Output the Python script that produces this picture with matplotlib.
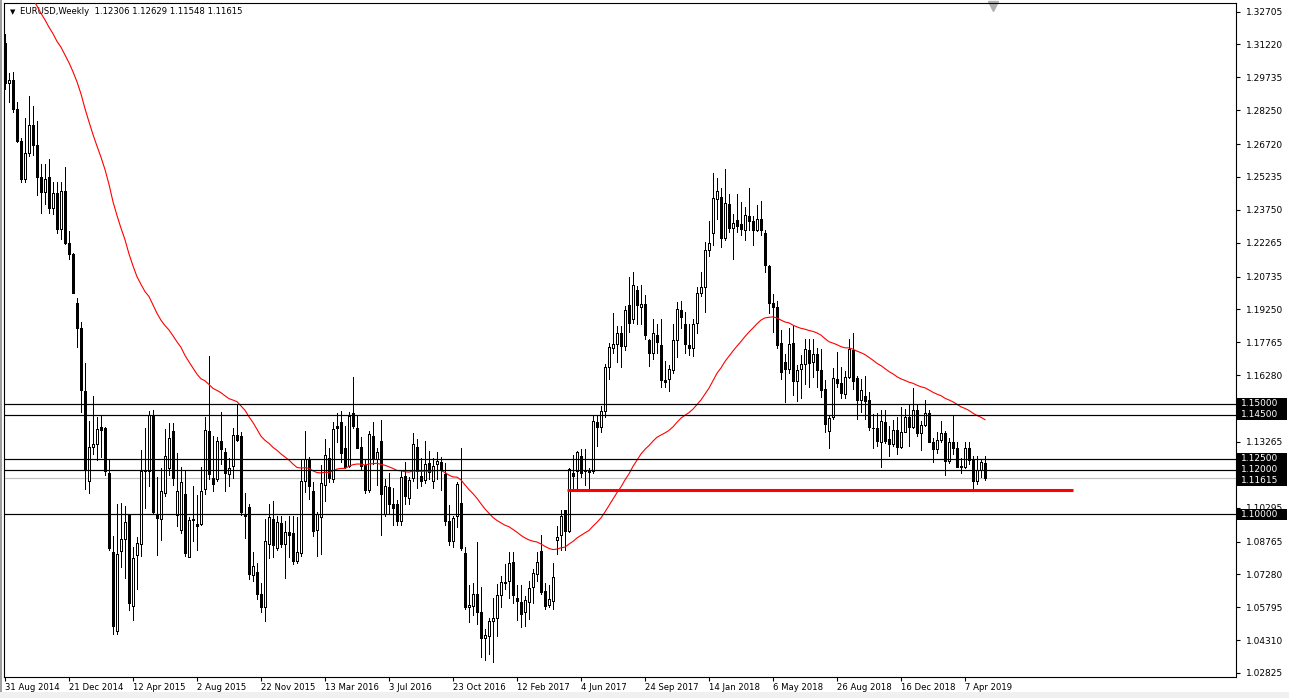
import numpy as np
import pandas as pd
import matplotlib
matplotlib.use('Agg')
from matplotlib import pyplot as plt
from matplotlib import transforms
from matplotlib.patches import Rectangle

plt.rcParams['font.family'] = ['DejaVu Sans']

symbol = 'EURUSD,Weekly'
last_quote = '1.12306 1.12629 1.11548 1.11615'

# weekly candles, 31 Aug 2014 .. 12 May 2019 (one row = 10 weeks)
opens = [
    1.3130, 1.2950, 1.2960, 1.2830, 1.2685, 1.2515, 1.2630, 1.2760, 1.2670, 1.2525,
    1.2455, 1.2525, 1.2385, 1.2450, 1.2290, 1.2460, 1.2225, 1.2175, 1.1956, 1.1840,
    1.1555, 1.1150, 1.1305, 1.1315, 1.1395, 1.1390, 1.1185, 1.0830, 1.0470, 1.0835,
    1.0890, 1.0995, 1.0585, 1.0815, 1.0866, 1.1195, 1.1195, 1.1448, 1.0996, 1.0977,
    1.1095, 1.1210, 1.1374, 1.0996, 1.0930, 1.1090, 1.0805, 1.0975, 1.0955, 1.0956,
    1.1112, 1.1374, 1.1165, 1.1160, 1.1332, 1.1282, 1.1180, 1.1218, 1.1359, 1.1354,
    1.0999, 1.1032, 1.0726, 1.0738, 1.0638, 1.0582, 1.0866, 1.0980, 1.0846, 1.0961,
    1.0865, 1.0920, 1.0915, 1.0790, 1.0825, 1.1150, 1.1249, 1.1105, 1.0930, 1.0986,
    1.1132, 1.1254, 1.1159, 1.1400, 1.1415, 1.1299, 1.1218, 1.1456, 1.1389, 1.1305,
    1.1223, 1.1108, 1.1355, 1.1250, 1.1329, 1.1001, 1.1123, 1.1047, 1.1047, 1.0968,
    1.1173, 1.1074, 1.1162, 1.1305, 1.1173, 1.1153, 1.1229, 1.1150, 1.1226, 1.1235,
    1.1180, 1.0968, 1.0877, 1.0991, 1.1051, 1.0824, 1.0582, 1.0587, 1.0640, 1.0560,
    1.0440, 1.0451, 1.0518, 1.0529, 1.0635, 1.0695, 1.0700, 1.0786, 1.0623, 1.0605,
    1.0559, 1.0605, 1.0673, 1.0729, 1.0832, 1.0653, 1.0590, 1.0608, 1.0885, 1.0908,
    1.1017, 1.0923, 1.1188, 1.1195, 1.1264, 1.1200, 1.1195, 1.1195, 1.1415, 1.1392,
    1.1468, 1.1666, 1.1750, 1.1771, 1.1820, 1.1760, 1.1945, 1.1880, 1.2014, 1.1935,
    1.1950, 1.1789, 1.1726, 1.1809, 1.1764, 1.1605, 1.1612, 1.1653, 1.1786, 1.1923,
    1.1859, 1.1764, 1.1749, 1.1865, 1.2001, 1.2026, 1.2192, 1.2271, 1.2426, 1.2435,
    1.2249, 1.2403, 1.2294, 1.2329, 1.2310, 1.2283, 1.2347, 1.2324, 1.2283, 1.2335,
    1.2271, 1.2123, 1.1956, 1.1938, 1.1774, 1.1688, 1.1658, 1.1774, 1.1601, 1.1658,
    1.1677, 1.1741, 1.1688, 1.1723, 1.1653, 1.1567, 1.1374, 1.1441, 1.1612, 1.1592,
    1.1544, 1.1620, 1.1741, 1.1617, 1.1517, 1.1536, 1.1514, 1.1390, 1.1389, 1.1324,
    1.1415, 1.1340, 1.1315, 1.1380, 1.1305, 1.1370, 1.1440, 1.1395, 1.1470, 1.1365,
    1.1405, 1.1455, 1.1325, 1.1295, 1.1335, 1.1365, 1.1240, 1.1325, 1.1300, 1.1215,
    1.1215, 1.1300, 1.1245, 1.1150, 1.1200, 1.12306,
]
highs = [
    1.3168, 1.2995, 1.3000, 1.2860, 1.2700, 1.2790, 1.2890, 1.2845, 1.2775, 1.2580,
    1.2580, 1.2605, 1.2500, 1.2500, 1.2500, 1.2570, 1.2280, 1.2180, 1.1977, 1.1870,
    1.1682, 1.1423, 1.1534, 1.1440, 1.1445, 1.1395, 1.1245, 1.0900, 1.1045, 1.1050,
    1.1035, 1.1000, 1.0850, 1.0895, 1.1290, 1.1390, 1.1467, 1.1470, 1.1170, 1.1210,
    1.1385, 1.1410, 1.1410, 1.1277, 1.1215, 1.1200, 1.0985, 1.1127, 1.1086, 1.1215,
    1.1440, 1.1714, 1.1354, 1.1350, 1.1461, 1.1300, 1.1255, 1.1390, 1.1495, 1.1370,
    1.1097, 1.1045, 1.0829, 1.0780, 1.0690, 1.0976, 1.1045, 1.1060, 1.0990, 1.0990,
    1.0970, 1.0990, 1.0990, 1.0985, 1.1245, 1.1375, 1.1260, 1.1145, 1.1010, 1.1220,
    1.1340, 1.1300, 1.1415, 1.1455, 1.1465, 1.1400, 1.1460, 1.1620, 1.1445, 1.1350,
    1.1245, 1.1375, 1.1415, 1.1300, 1.1426, 1.1160, 1.1185, 1.1120, 1.1065, 1.1200,
    1.1235, 1.1170, 1.1365, 1.1340, 1.1255, 1.1330, 1.1285, 1.1255, 1.1280, 1.1260,
    1.1230, 1.1040, 1.0990, 1.1145, 1.1299, 1.0850, 1.0682, 1.0688, 1.0872, 1.0670,
    1.0480, 1.0530, 1.0620, 1.0685, 1.0720, 1.0775, 1.0830, 1.0830, 1.0680, 1.0680,
    1.0630, 1.0700, 1.0750, 1.0830, 1.0905, 1.0690, 1.0680, 1.0780, 1.0945, 1.1020,
    1.1020, 1.1210, 1.1268, 1.1285, 1.1296, 1.1296, 1.1210, 1.1445, 1.1445, 1.1490,
    1.1680, 1.1775, 1.1910, 1.1850, 1.1850, 1.1940, 1.2070, 1.2092, 1.2030, 1.2035,
    1.1990, 1.1790, 1.1880, 1.1860, 1.1880, 1.1690, 1.1675, 1.1860, 1.1960, 1.1965,
    1.1915, 1.1860, 1.1880, 1.2025, 1.2092, 1.2230, 1.2324, 1.2541, 1.2521, 1.2475,
    1.2559, 1.2445, 1.2355, 1.2446, 1.2410, 1.2390, 1.2475, 1.2345, 1.2395, 1.2415,
    1.2285, 1.2125, 1.1995, 1.1965, 1.1830, 1.1725, 1.1840, 1.1850, 1.1675, 1.1720,
    1.1790, 1.1790, 1.1790, 1.1750, 1.1745, 1.1605, 1.1445, 1.1660, 1.1733, 1.1665,
    1.1645, 1.1790, 1.1818, 1.1625, 1.1610, 1.1626, 1.1550, 1.1453, 1.1455, 1.1470,
    1.1470, 1.1400, 1.1425, 1.1440, 1.1485, 1.1475, 1.1500, 1.1570, 1.1495, 1.1420,
    1.1515, 1.1470, 1.1345, 1.1370, 1.1420, 1.1375, 1.1345, 1.1450, 1.1325, 1.1255,
    1.1325, 1.1325, 1.1265, 1.1265, 1.1250, 1.12629,
]
lows = [
    1.2920, 1.2860, 1.2815, 1.2680, 1.2500, 1.2500, 1.2620, 1.2625, 1.2440, 1.2360,
    1.2400, 1.2360, 1.2355, 1.2270, 1.2245, 1.2220, 1.2155, 1.2000, 1.1755, 1.1460,
    1.1115, 1.1097, 1.1270, 1.1245, 1.1260, 1.1175, 1.0840, 1.0460, 1.0460, 1.0760,
    1.0710, 1.0565, 1.0520, 1.0660, 1.0810, 1.1030, 1.1125, 1.1005, 1.0815, 1.0885,
    1.1080, 1.1175, 1.1130, 1.0945, 1.0915, 1.0810, 1.0805, 1.0877, 1.0840, 1.0950,
    1.1090, 1.1160, 1.1105, 1.1150, 1.1226, 1.1105, 1.1125, 1.1165, 1.1330, 1.0995,
    1.0892, 1.0705, 1.0696, 1.0615, 1.0560, 1.0518, 1.0800, 1.0805, 1.0840, 1.0850,
    1.0710, 1.0805, 1.0775, 1.0780, 1.0810, 1.1100, 1.1070, 1.0900, 1.0810, 1.0820,
    1.1060, 1.1145, 1.1145, 1.1325, 1.1235, 1.1210, 1.1215, 1.1390, 1.1300, 1.1200,
    1.1095, 1.1100, 1.1225, 1.1130, 1.0908, 1.0990, 1.1000, 1.0950, 1.0950, 1.0950,
    1.1045, 1.1045, 1.1150, 1.1120, 1.1125, 1.1140, 1.1160, 1.1120, 1.1160, 1.1110,
    1.0950, 1.0860, 1.0850, 1.0940, 1.0840, 1.0570, 1.0511, 1.0545, 1.0505, 1.0355,
    1.0341, 1.0370, 1.0332, 1.0450, 1.0580, 1.0660, 1.0620, 1.0600, 1.0521, 1.0491,
    1.0495, 1.0525, 1.0600, 1.0700, 1.0640, 1.0570, 1.0580, 1.0570, 1.0818, 1.0840,
    1.0840, 1.0920, 1.1110, 1.1110, 1.1170, 1.1130, 1.1120, 1.1185, 1.1310, 1.1370,
    1.1440, 1.1610, 1.1730, 1.1688, 1.1665, 1.1740, 1.1825, 1.1865, 1.1860, 1.1860,
    1.1790, 1.1670, 1.1700, 1.1730, 1.1575, 1.1575, 1.1555, 1.1640, 1.1710, 1.1840,
    1.1730, 1.1720, 1.1715, 1.1820, 1.1985, 1.1915, 1.2165, 1.2215, 1.2335, 1.2205,
    1.2240, 1.2275, 1.2153, 1.2275, 1.2260, 1.2240, 1.2285, 1.2215, 1.2280, 1.2260,
    1.2095, 1.1910, 1.1823, 1.1750, 1.1610, 1.1506, 1.1640, 1.1540, 1.1510, 1.1525,
    1.1590, 1.1575, 1.1620, 1.1575, 1.1530, 1.1370, 1.1299, 1.1430, 1.1575, 1.1525,
    1.1525, 1.1615, 1.1565, 1.1430, 1.1460, 1.1430, 1.1380, 1.1300, 1.1310, 1.1215,
    1.1320, 1.1265, 1.1310, 1.1270, 1.1300, 1.1370, 1.1310, 1.1390, 1.1355, 1.1290,
    1.1400, 1.1325, 1.1235, 1.1275, 1.1325, 1.1175, 1.1230, 1.1270, 1.1215, 1.1185,
    1.1210, 1.1225, 1.1110, 1.1135, 1.1170, 1.11548,
]
closes = [
    1.2950, 1.2960, 1.2830, 1.2685, 1.2515, 1.2630, 1.2760, 1.2670, 1.2525, 1.2455,
    1.2515, 1.2385, 1.2450, 1.2290, 1.2460, 1.2225, 1.2175, 1.2000, 1.1840, 1.1560,
    1.1200, 1.1305, 1.1315, 1.1385, 1.1380, 1.1195, 1.0845, 1.0495, 1.0820, 1.0890,
    1.0965, 1.0600, 1.0800, 1.0870, 1.1195, 1.1200, 1.1448, 1.1010, 1.0983, 1.1106,
    1.1264, 1.1344, 1.1164, 1.1105, 1.1145, 1.0824, 1.0972, 1.0980, 1.0948, 1.1105,
    1.1380, 1.1180, 1.1138, 1.1332, 1.1294, 1.1188, 1.1210, 1.1359, 1.1335, 1.1010,
    1.0991, 1.0729, 1.0768, 1.0638, 1.0582, 1.0877, 1.0986, 1.0859, 1.0965, 1.0865,
    1.0920, 1.0905, 1.0790, 1.0829, 1.1150, 1.1250, 1.1127, 1.0923, 1.1000, 1.1142,
    1.1268, 1.1163, 1.1386, 1.1391, 1.1278, 1.1214, 1.1445, 1.1400, 1.1301, 1.1218,
    1.1108, 1.1362, 1.1249, 1.1282, 1.1093, 1.1127, 1.1044, 1.1026, 1.0971, 1.1168,
    1.1082, 1.1153, 1.1317, 1.1195, 1.1150, 1.1226, 1.1192, 1.1218, 1.1238, 1.1200,
    1.0968, 1.0877, 1.0983, 1.1135, 1.0847, 1.0582, 1.0590, 1.0641, 1.0560, 1.0441,
    1.0455, 1.0518, 1.0529, 1.0635, 1.0695, 1.0688, 1.0779, 1.0635, 1.0608, 1.0551,
    1.0612, 1.0665, 1.0733, 1.0786, 1.0650, 1.0586, 1.0615, 1.0718, 1.0895, 1.0991,
    1.0926, 1.1203, 1.1173, 1.1279, 1.1188, 1.1195, 1.1190, 1.1423, 1.1392, 1.1468,
    1.1665, 1.1755, 1.1771, 1.1820, 1.1758, 1.1923, 1.1862, 1.2036, 1.1945, 1.1950,
    1.1809, 1.1726, 1.1817, 1.1779, 1.1605, 1.1597, 1.1658, 1.1786, 1.1926, 1.1890,
    1.1768, 1.1749, 1.1859, 1.2001, 1.2026, 1.2195, 1.2227, 1.2430, 1.2458, 1.2249,
    1.2408, 1.2294, 1.2317, 1.2301, 1.2290, 1.2350, 1.2324, 1.2283, 1.2332, 1.2283,
    1.2127, 1.1956, 1.1938, 1.1764, 1.1642, 1.1658, 1.1768, 1.1601, 1.1653, 1.1680,
    1.1744, 1.1683, 1.1723, 1.1653, 1.1562, 1.1408, 1.1435, 1.1617, 1.1592, 1.1547,
    1.1620, 1.1744, 1.1600, 1.1517, 1.1559, 1.1510, 1.1395, 1.1388, 1.1329, 1.1420,
    1.1332, 1.1315, 1.1380, 1.1305, 1.1370, 1.1440, 1.1395, 1.1470, 1.1365, 1.1405,
    1.1455, 1.1325, 1.1295, 1.1335, 1.1365, 1.1240, 1.1325, 1.1300, 1.1215, 1.1215,
    1.1300, 1.1245, 1.1150, 1.1200, 1.1235, 1.11615,
]

# weekly closes before the first visible bar, they only feed the moving average
history_closes = [
    1.3300, 1.3525, 1.3520, 1.3555, 1.3545, 1.3685, 1.3805, 1.3485, 1.3365, 1.3495,
    1.3555, 1.3590, 1.3705, 1.3745, 1.3675, 1.3690, 1.3590, 1.3665, 1.3540, 1.3675,
    1.3485, 1.3635, 1.3695, 1.3740, 1.3805, 1.3875, 1.3910, 1.3790, 1.3750, 1.3705,
    1.3885, 1.3810, 1.3830, 1.3870, 1.3755, 1.3695, 1.3630, 1.3635, 1.3640, 1.3540,
    1.3605, 1.3645, 1.3605, 1.3605, 1.3525, 1.3430, 1.3415, 1.3410, 1.3400, 1.3240,
    1.3130,
]
ma_period = 50

date_labels = ['31 Aug 2014', '21 Dec 2014', '12 Apr 2015', '2 Aug 2015', '22 Nov 2015',
               '13 Mar 2016', '3 Jul 2016', '23 Oct 2016', '12 Feb 2017', '4 Jun 2017',
               '24 Sep 2017', '14 Jan 2018', '6 May 2018', '26 Aug 2018', '16 Dec 2018',
               '7 Apr 2019']
date_label_bars = [0, 16, 32, 48, 64, 80, 96, 112, 128, 144, 160, 176, 192, 208, 224, 240]

# scale labels (the ones hidden under the level boxes are left out)
price_ticks = [1.32705, 1.31220, 1.29735, 1.28250, 1.26720, 1.25235, 1.23750, 1.22265,
               1.20735, 1.19250, 1.17765, 1.16280, 1.13265, 1.10295,
               1.08765, 1.07280, 1.05795, 1.04310, 1.02825]

level_lines = [1.15000, 1.14500, 1.12500, 1.12000, 1.10000]
bid_price = 1.11615
support_level = 1.1108
support_from, support_to = 140.5, 267

W, H = 1289, 698
fig = plt.figure(figsize=(W / 100, H / 100), dpi=100)
fig.patch.set_facecolor('white')
ax = fig.add_axes([4 / W, 1 - 677 / H, 1232 / W, 674 / H])
px = 0.72  # one pixel in points

# window frame bits
fig.add_artist(Rectangle((0, 0), 2 / W, 1, transform=fig.transFigure, color='#a0a0a0', lw=0))
fig.add_artist(Rectangle((0, 0), 1, 6 / H, transform=fig.transFigure, color='#f0f0f0', lw=0))

o = np.array(opens)
h = np.array(highs)
l = np.array(lows)
c = np.array(closes)
idx = np.arange(len(c))
up = c >= o

ylo, yhi = 1.02643, 1.33095
per_px = (yhi - ylo) / 674

ax.vlines(idx, l, h, color='black', lw=px, zorder=2, antialiased=False)
body_lo = np.minimum(o, c)
body_h = np.maximum(np.abs(c - o), per_px * 0.5)
ax.bar(idx[up], body_h[up], bottom=body_lo[up], width=0.5, color='white',
       edgecolor='black', lw=px, zorder=3, antialiased=False)
ax.bar(idx[~up], body_h[~up], bottom=body_lo[~up], width=0.5, color='black',
       edgecolor='black', lw=px, zorder=3, antialiased=False)

# exponential moving average
ema = pd.Series(history_closes + closes).ewm(span=ma_period, adjust=False).mean()
ema = ema.to_numpy()[len(history_closes):]
ax.plot(idx, ema, color='red', lw=0.8, zorder=4)

ax.axhline(bid_price, color='#c0c0c0', lw=px * 1.2, zorder=1)
for lv in level_lines:
    ax.axhline(lv, color='black', lw=px * 1.2, zorder=5)
ax.hlines(support_level, support_from, support_to, color='red', lw=2.2, zorder=6)

ax.set_xlim(-0.25, 307.75)
ax.set_ylim(ylo, yhi)

ax.yaxis.tick_right()
ax.set_yticks(price_ticks)
ax.set_yticklabels([f'{p:.5f}' for p in price_ticks], fontsize=6.5)
ax.tick_params(axis='y', length=3, width=0.8, pad=4)
ax.set_xticks(date_label_bars)
ax.set_xticklabels(date_labels, fontsize=6.1, ha='left')
ax.tick_params(axis='x', length=3, width=0.8, pad=1.5)
for sp in ax.spines.values():
    sp.set_color('black')
    sp.set_linewidth(0.8)

# boxed price labels on the right scale
trans = transforms.blended_transform_factory(ax.transAxes, ax.transData)
box_h = 11 * per_px
for lv in level_lines + [bid_price]:
    yc = lv - (2 * per_px if lv == bid_price else 0)
    ax.add_patch(Rectangle((1 + 1 / 1232, yc - box_h / 2), 50 / 1232, box_h, transform=trans,
                           color='black', lw=0, clip_on=False, zorder=9))
    ax.text(1 + 5 / 1232, yc, f'{lv:.5f}', transform=trans, fontsize=6.5, color='white',
            va='center', ha='left', clip_on=False, zorder=10)

# header
ax.text(6 / 1232, 1 - 9 / 674, '\u25bc', transform=ax.transAxes, fontsize=5, va='center')
ax.text(16 / 1232, 1 - 9 / 674, f'{symbol}  {last_quote}', transform=ax.transAxes,
        fontsize=6.1, va='center')
# chart shift marker
ax.plot([989 / 1232], [1 - 3 / 674], marker='v', ms=7, color='#b0b0b0',
        transform=ax.transAxes, clip_on=False)

fig.savefig('out.png', dpi=100)
